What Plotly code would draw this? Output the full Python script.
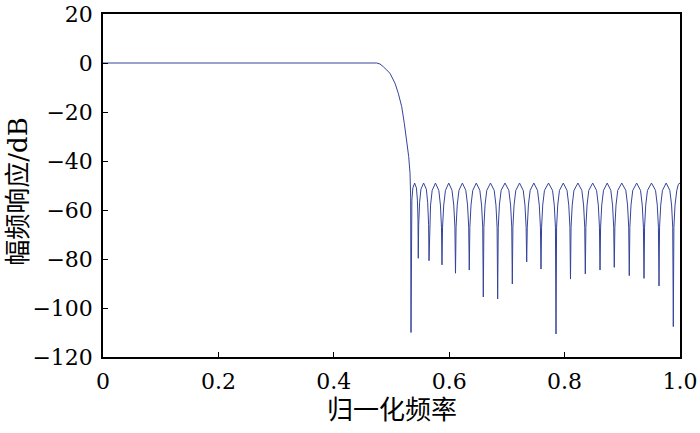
import plotly.graph_objects as go

# Normalised frequency (x) and magnitude response in dB (y)
freq = [
    0.0, 0.4743, 0.4800, 0.4858, 0.4974, 0.5061, 0.5118, 0.5177, 0.5222, 0.5263,
    0.5298, 0.5321, 0.5332, 0.5338,
    0.5343, 0.5353, 0.5370, 0.5401, 0.5432, 0.5449, 0.5459, 0.5464,
    0.5471, 0.5487, 0.5510, 0.5557, 0.5604, 0.5627, 0.5643, 0.5650,
    0.5659, 0.5677, 0.5705, 0.5762, 0.5820, 0.5848, 0.5866, 0.5875,
    0.5885, 0.5905, 0.5935, 0.5992, 0.6049, 0.6079, 0.6099, 0.6109,
    0.6119, 0.6139, 0.6169, 0.6228, 0.6288, 0.6318, 0.6338, 0.6348,
    0.6358, 0.6378, 0.6408, 0.6470, 0.6531, 0.6561, 0.6581, 0.6591,
    0.6601, 0.6621, 0.6651, 0.6716, 0.6780, 0.6810, 0.6830, 0.6840,
    0.6850, 0.6870, 0.6900, 0.6967, 0.7034, 0.7064, 0.7084, 0.7094,
    0.7104, 0.7124, 0.7154, 0.7219, 0.7283, 0.7313, 0.7333, 0.7343,
    0.7353, 0.7373, 0.7403, 0.7467, 0.7531, 0.7561, 0.7581, 0.7591,
    0.7601, 0.7621, 0.7651, 0.7721, 0.7791, 0.7821, 0.7841, 0.7851,
    0.7861, 0.7881, 0.7911, 0.7977, 0.8042, 0.8072, 0.8092, 0.8102,
    0.8112, 0.8132, 0.8162, 0.8231, 0.8299, 0.8329, 0.8349, 0.8359,
    0.8369, 0.8389, 0.8419, 0.8487, 0.8554, 0.8584, 0.8604, 0.8614,
    0.8624, 0.8644, 0.8674, 0.8738, 0.8801, 0.8831, 0.8851, 0.8861,
    0.8871, 0.8891, 0.8921, 0.8991, 0.9061, 0.9091, 0.9111, 0.9121,
    0.9131, 0.9151, 0.9181, 0.9249, 0.9316, 0.9346, 0.9366, 0.9376,
    0.9386, 0.9406, 0.9436, 0.9506, 0.9576, 0.9606, 0.9626, 0.9636,
    0.9646, 0.9666, 0.9696, 0.9760, 0.9824, 0.9854, 0.9874, 0.9884,
    0.9894, 0.9914, 0.9944, 0.9972, 1.0,
]
mag_db = [
    0.0, 0.0, -0.4, -1.5, -4.2, -8.3, -12.4, -17.8, -24.6, -31.4,
    -38.2, -45.0, -55.0, -110.0,
    -64, -56, -51, -49, -51, -56, -64, -79.7,
    -66, -57, -51.5, -49, -51.5, -57, -66, -80.7,
    -67, -58, -52, -49, -52, -58, -67, -82.4,
    -67, -58, -52, -49, -52, -58, -67, -85.8,
    -67, -58, -52, -49, -52, -58, -67, -84.5,
    -67, -58, -52, -49, -52, -58, -67, -95.5,
    -67, -58, -52, -49, -52, -58, -67, -96.3,
    -67, -58, -52, -49, -52, -58, -67, -90.2,
    -67, -58, -52, -49, -52, -58, -67, -81.2,
    -67, -58, -52, -49, -52, -58, -67, -84.1,
    -67, -58, -52, -49, -52, -58, -67, -110.6,
    -67, -58, -52, -49, -52, -58, -67, -88.2,
    -67, -58, -52, -49, -52, -58, -67, -86.1,
    -67, -58, -52, -49, -52, -58, -67, -84.5,
    -67, -58, -52, -49, -52, -58, -67, -83.4,
    -67, -58, -52, -49, -52, -58, -67, -86.8,
    -67, -58, -52, -49, -52, -58, -67, -87.9,
    -67, -58, -52, -49, -52, -58, -67, -91.0,
    -67, -58, -52, -49, -52, -58, -67, -107.6,
    -67, -58, -52, -49.5, -49,
]

x_ticks = [0, 0.2, 0.4, 0.6, 0.8, 1.0]
x_tick_text = ["0", "0.2", "0.4", "0.6", "0.8", "1.0"]
y_ticks = [20, 0, -20, -40, -60, -80, -100, -120]

x_title = "归一化频率"
y_title = "幅频响应/dB"

TICK_FONT = "DejaVu Serif, Liberation Serif, serif"
TITLE_FONT = "DejaVu Serif, Noto Sans CJK SC"

fig = go.Figure()
fig.add_trace(go.Scatter(
    x=freq, y=mag_db, mode="lines",
    line=dict(color="#34449a", width=1),
    showlegend=False, hoverinfo="skip",
))

axis_common = dict(
    showline=True, linecolor="black", linewidth=1.5, mirror=True,
    ticks="inside", ticklen=5, tickwidth=1, tickcolor="black",
    showgrid=False, zeroline=False, automargin=False,
    tickfont=dict(family=TICK_FONT, size=22, color="black"),
)

fig.update_layout(
    width=700, height=433,
    margin=dict(l=103, r=20, t=14, b=76, autoexpand=False),
    paper_bgcolor="white", plot_bgcolor="white",
    xaxis=dict(range=[0, 1], tickvals=x_ticks, ticktext=x_tick_text, ticklabelstandoff=4, **axis_common),
    yaxis=dict(range=[-120, 20], tickvals=y_ticks, ticklabelstandoff=4, **axis_common),
    annotations=[
        dict(text=x_title, xref="paper", yref="paper", x=0.5, y=-0.1545,
             xanchor="center", yanchor="middle", showarrow=False,
             font=dict(family=TITLE_FONT, size=26, color="black")),
        dict(text=y_title, xref="paper", yref="paper", x=-0.1473, y=0.482,
             xanchor="center", yanchor="middle", showarrow=False, textangle=-90,
             font=dict(family=TITLE_FONT, size=26, color="black")),
    ],
)

fig.write_html(
    "out.html",
    config={"displayModeBar": False},
    post_script="document.body.style.margin='0';document.body.style.overflow='hidden';",
)
